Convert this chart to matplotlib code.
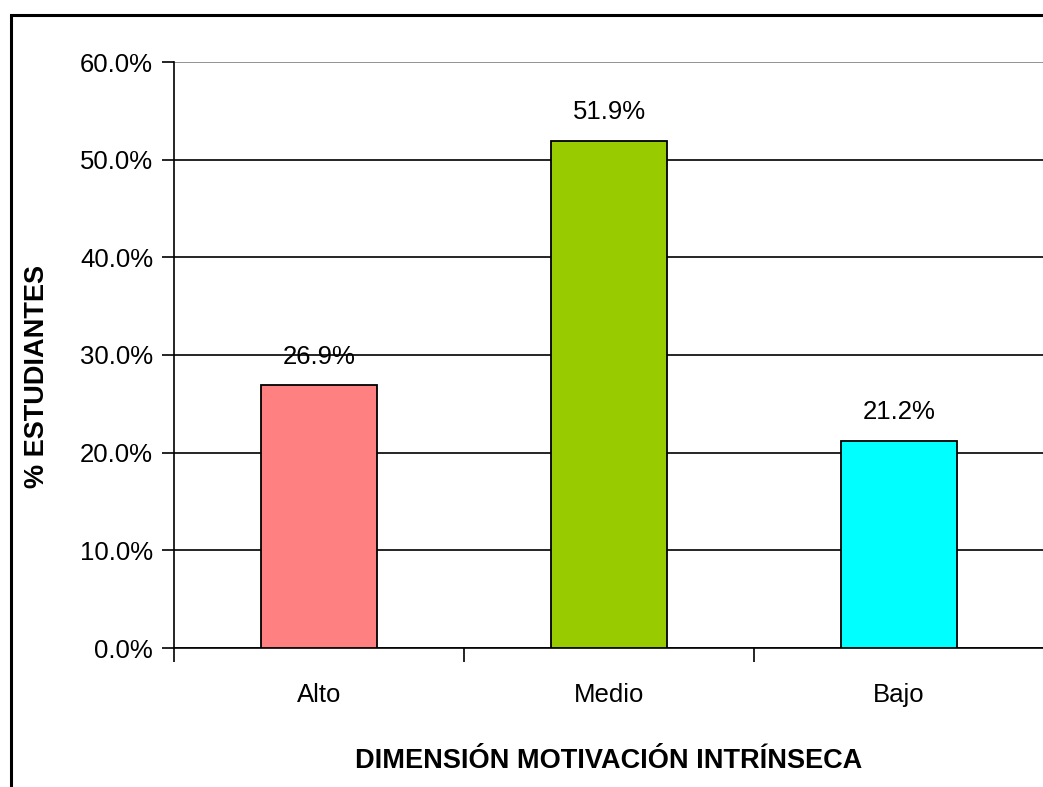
import matplotlib
matplotlib.use("Agg")
import matplotlib.pyplot as plt
from matplotlib.patches import Rectangle
from matplotlib.ticker import FuncFormatter, FixedLocator

plt.rcParams["font.family"] = ["Liberation Sans", "DejaVu Sans"]

categories = ["Alto", "Medio", "Bajo"]
values = [26.9, 51.9, 21.2]
colors = ["#FF8080", "#99CC00", "#00FFFF"]
yticks = [0, 10, 20, 30, 40, 50, 60]

W, H = 1043, 787
fig = plt.figure(figsize=(W / 100, H / 100), dpi=100)

# outer chart border (runs off right/bottom edges like the source)
fig.patches.append(Rectangle((10.5 / W, -0.05), 1.1, (H - 15) / H + 0.05,
                             transform=fig.transFigure, fill=False,
                             edgecolor="black", linewidth=2.2, zorder=0))

ax = fig.add_axes([174 / W, (H - 648) / H, (1044 - 174) / W, (648 - 62) / H])
x = range(len(categories))
ax.bar(x, values, width=0.4, color=colors, edgecolor="black", linewidth=1.3, zorder=3)

for i, v in enumerate(values):
    ax.annotate(f"{v:.1f}%", (i, v), xytext=(0, 12), textcoords="offset points",
                ha="center", va="bottom", fontsize=18.5)

ax.set_xlim(-0.5, 2.5)
ax.set_ylim(0, 60)
ax.set_yticks(yticks)
ax.yaxis.set_major_formatter(FuncFormatter(lambda v, p: f"{v:.1f}%"))
ax.grid(axis="y", color="black", linewidth=1.2, zorder=0)
ax.get_ygridlines()[-1].set_color("#808080")
ax.set_xticks(list(x))
ax.set_xticklabels(categories, fontsize=18.5)
ax.xaxis.set_minor_locator(FixedLocator([-0.5, 0.5, 1.5, 2.5]))
ax.tick_params(axis="x", which="major", length=0, pad=25)
ax.tick_params(axis="x", which="minor", length=10, width=1.2, direction="out")
ax.tick_params(axis="y", length=9, width=1.2, direction="out", labelsize=18.5, pad=6)

for s in ["top", "right"]:
    ax.spines[s].set_visible(False)
ax.spines["left"].set_linewidth(1.2)
ax.spines["bottom"].set_linewidth(1.2)

ax.set_xlabel("DIMENSIÓN MOTIVACIÓN INTRÍNSECA", fontsize=19.5, fontweight="bold", labelpad=30)
ax.set_ylabel("% ESTUDIANTES", fontsize=19.5, fontweight="bold")
ax.yaxis.set_label_coords(-0.143, 0.4625)

fig.savefig("out.png", dpi=100)
